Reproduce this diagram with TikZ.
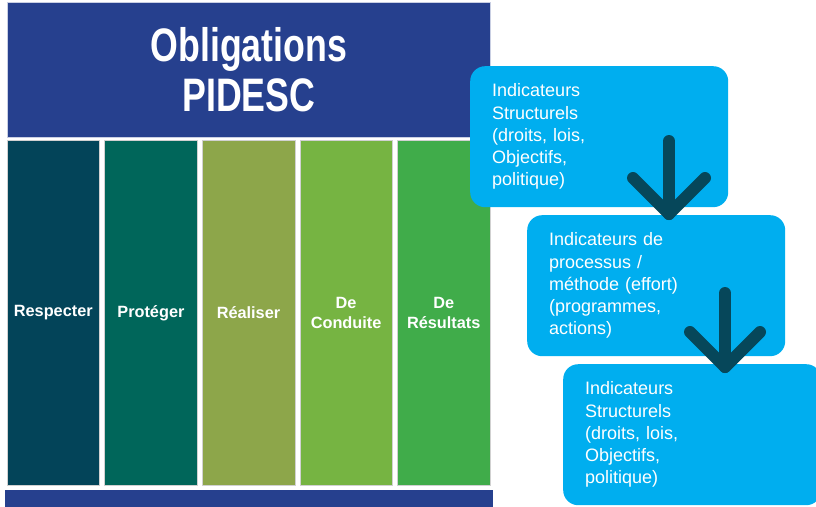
\documentclass[tikz,border=0pt]{standalone}
\usepackage{fontspec}
\setmainfont{Liberation Sans}
\newfontfamily\titlefont{Liberation Sans}[FakeStretch=0.76]
\usetikzlibrary{positioning}

\definecolor{pidescblue}{HTML}{26408E}
\definecolor{colrespect}{HTML}{034459}
\definecolor{colprotect}{HTML}{00665A}
\definecolor{colrealise}{HTML}{8DA64A}
\definecolor{colconduct}{HTML}{76B442}
\definecolor{colresult}{HTML}{40AC4A}
\definecolor{indicblue}{HTML}{00AEEF}
\definecolor{arrowteal}{HTML}{06475A}

\begin{document}
\begin{tikzpicture}[
        x=1pt, y=-1pt,
        node distance=4.4pt,
        header/.style={draw=white!75!pidescblue, line width=0.8pt, fill=pidescblue, minimum width=483pt, minimum height=135pt, inner sep=0pt, align=center, text=white, font=\titlefont\bfseries\fontsize{47}{50}\selectfont},
        column/.style={draw=white!82!black, line width=0.6pt, minimum width=92.6pt, minimum height=345pt, inner sep=0pt, align=center, text=white, font=\bfseries\fontsize{16.3}{20}\selectfont},
        indic/.style={fill=indicblue, rounded corners=15pt, minimum width=258pt, minimum height=141pt, inner xsep=22pt, inner ysep=0pt, text width=214pt, align=left, text=white, font=\fontsize{18}{22.2}\selectfont},
        bigarrow/.style={draw=arrowteal, line width=12pt, line cap=round, line join=round}
    ]
    \useasboundingbox (0,0) rectangle (816,506);

    % Nodes - Header
    \node[header, anchor=north west] (title) at (7,2) {Obligations\\PIDESC};

    % Nodes - Columns
    \node[column, fill=colrespect, anchor=north west] (respecter) at (6.7,140) {Respecter};
    \node[column, fill=colprotect, right=of respecter] (proteger) {Protéger};
    \node[column, fill=colrealise, right=of proteger] (realiser) {Réaliser};
    \node[column, fill=colconduct, right=of realiser] (conduite) {De\\Conduite};
    \node[column, fill=colresult, right=of conduite] (resultats) {De\\Résultats};

    % Bottom bar
    \node[fill=pidescblue, minimum width=488pt, minimum height=17pt, inner sep=0pt, anchor=north west] (bottombar) at (5,490) {};

    % Nodes - Indicators
    \node[indic, anchor=north west] (structA) at (470,66) {Indicateurs\\Structurels\\(droits, lois,\\Objectifs,\\politique)};
    \node[indic, anchor=north west] (process) at (527,215) {Indicateurs de\\processus /\\méthode (effort)\\(programmes,\\actions)};
    \node[indic, anchor=north west] (structB) at (563,364) {Indicateurs\\Structurels\\(droits, lois,\\Objectifs,\\politique)};

    % Arrows
    \coordinate (arrA) at (669,141);
    \coordinate (tipA) at (669,214);
    \coordinate (arrB) at (725,293);
    \coordinate (tipB) at (725,367);
    \draw[bigarrow] (arrA) -- (tipA);
    \draw[bigarrow] ([shift={(-36,-36)}]tipA) -- (tipA) -- ([shift={(36,-36)}]tipA);
    \draw[bigarrow] (arrB) -- (tipB);
    \draw[bigarrow] ([shift={(-35,-35)}]tipB) -- (tipB) -- ([shift={(35,-35)}]tipB);

\end{tikzpicture}
\end{document}
